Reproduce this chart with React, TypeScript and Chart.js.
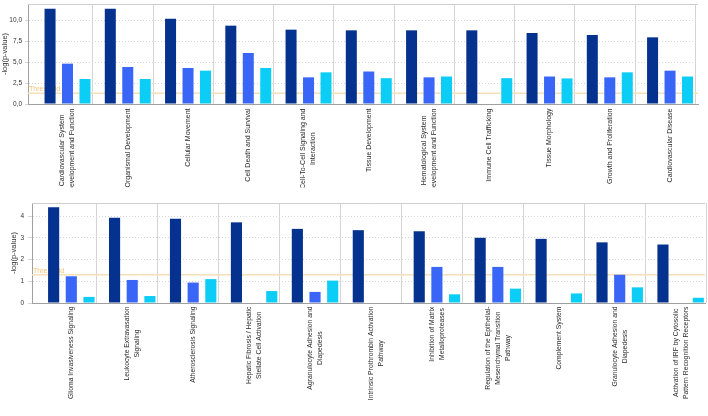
import React, { useEffect, useRef } from 'react';
import { Chart, registerables } from 'chart.js';

Chart.register(...registerables);
Chart.defaults.font.family = '"Liberation Sans", Arial, sans-serif';

// ---------------- data ----------------
const TOP_CATEGORIES: string[][] = [
  ['Cardiovascular System', 'Development and Function'],
  ['Organismal Development'],
  ['Cellular Movement'],
  ['Cell Death and Survival'],
  ['Cell-To-Cell Signaling and', 'Interaction'],
  ['Tissue Development'],
  ['Hematological System', 'Development and Function'],
  ['Immune Cell Trafficking'],
  ['Tissue Morphology'],
  ['Growth and Proliferation'],
  ['Cardiovascular Disease'],
];
const TOP_SERIES_1: (number | null)[] = [11.44, 11.44, 10.24, 9.4, 8.92, 8.84, 8.84, 8.84, 8.52, 8.28, 8.0];
const TOP_SERIES_2: (number | null)[] = [4.84, 4.44, 4.32, 6.12, 3.2, 3.9, 3.2, null, 3.3, 3.2, 4.0];
const TOP_SERIES_3: (number | null)[] = [3.0, 3.0, 4.0, 4.32, 3.8, 3.1, 3.3, 3.1, 3.07, 3.8, 3.3];

const BOTTOM_CATEGORIES: string[][] = [
  ['Glioma Invasiveness Signaling'],
  ['Leukocyte Extravasation', 'Signaling'],
  ['Atherosclerosis Signaling'],
  ['Hepatic Fibrosis / Hepatic', 'Stellate Cell Activation'],
  ['Agranulocyte Adhesion and', 'Diapedesis'],
  ['Intrinsic Prothrombin Activation', 'Pathway'],
  ['Inhibition of Matrix', 'Metalloproteases'],
  ['Regulation of the Epithelial-', 'Mesenchymal Transition', 'Pathway'],
  ['Complement System'],
  ['Granulocyte Adhesion and', 'Diapedesis'],
  ['Activation of IRF by Cytosolic', 'Pattern Recognition Receptors'],
];
const BOTTOM_SERIES_1: (number | null)[] = [4.41, 3.92, 3.87, 3.71, 3.41, 3.35, 3.3, 3.0, 2.95, 2.79, 2.69];
const BOTTOM_SERIES_2: (number | null)[] = [1.23, 1.06, 0.94, null, 0.51, null, 1.66, 1.66, null, 1.3, null];
const BOTTOM_SERIES_3: (number | null)[] = [0.28, 0.32, 1.1, 0.55, 1.03, null, 0.4, 0.66, 0.44, 0.72, 0.24];

const THRESHOLD = 1.3;
const THRESHOLD_LABEL = 'Threshold';
const Y_TITLE = '-log(p-value)';

// ---------------- styles ----------------
const BAR_COLORS = ['#05318f', '#3a66f7', '#0ccdf6'];
const GRID_SHIFT = 0.42;

type Panel = {
  categories: string[][];
  series: (number | null)[][];
  yMax: number;
  yStep: number;
  yTickMax: number;
  decimals: number;
  xMin: number;
  xMax: number;
  padding: { top: number; left: number; right: number; bottom: number };
  yWidth: number;
  xHeight: number;
  tickLen: number;
  tickPad: number;
  labelGap: number;
  labelClip: number;
  labelFont: number;
};

const TOP_PANEL: Panel = {
  categories: TOP_CATEGORIES,
  series: [TOP_SERIES_1, TOP_SERIES_2, TOP_SERIES_3],
  yMax: 12,
  yStep: 2.5,
  yTickMax: 10,
  decimals: 1,
  xMin: -0.656,
  xMax: 10.464,
  padding: { top: 4, left: 0, right: 10, bottom: 0 },
  yWidth: 28,
  xHeight: 92,
  tickLen: 3,
  tickPad: 3,
  labelGap: 4.5,
  labelClip: 82.5,
  labelFont: 7,
};

const BOTTOM_PANEL: Panel = {
  categories: BOTTOM_CATEGORIES,
  series: [BOTTOM_SERIES_1, BOTTOM_SERIES_2, BOTTOM_SERIES_3],
  yMax: 4.6,
  yStep: 1,
  yTickMax: 4,
  decimals: 0,
  xMin: -0.645,
  xMax: 10.4,
  padding: { top: 7, left: 9, right: 3, bottom: 0 },
  yWidth: 23,
  xHeight: 113,
  tickLen: 4,
  tickPad: 4,
  labelGap: 3.5,
  labelClip: 200,
  labelFont: 6.8,
};

function buildChart(canvas: HTMLCanvasElement, p: Panel) {
  const datasets = p.series.map((vals, k) => ({
    label: 'S' + (k + 1),
    data: vals
      .map((v, i) => ({ x: i, y: v }))
      .filter((d) => d.y !== null) as { x: number; y: number }[],
    backgroundColor: BAR_COLORS[k],
    borderWidth: 0,
    categoryPercentage: 0.87,
    barPercentage: 0.63,
  }));

  const thresholdPlugin = {
    id: 'threshold',
    beforeDatasetsDraw(chart: any) {
      const { ctx, chartArea, scales } = chart;
      const y = scales.y.getPixelForValue(THRESHOLD);
      ctx.save();
      ctx.strokeStyle = '#f6e0b8';
      ctx.lineWidth = 1.5;
      ctx.beginPath();
      ctx.moveTo(chartArea.left, y);
      ctx.lineTo(chartArea.right, y);
      ctx.stroke();
      ctx.fillStyle = '#f0c572';
      ctx.font = '7px "Liberation Sans", Arial, sans-serif';
      ctx.textAlign = 'left';
      ctx.textBaseline = 'alphabetic';
      ctx.fillText(THRESHOLD_LABEL, chartArea.left + 1, y - 2);
      // top frame line
      ctx.strokeStyle = '#cfcfcf';
      ctx.lineWidth = 1;
      ctx.beginPath();
      ctx.moveTo(chartArea.left, chartArea.top + 0.5);
      ctx.lineTo(chartArea.right, chartArea.top + 0.5);
      ctx.stroke();
      ctx.restore();
    },
  };

  const labelPlugin = {
    id: 'catLabels',
    afterDraw(chart: any) {
      const { ctx, chartArea, scales } = chart;
      const x = scales.x;
      ctx.save();
      ctx.beginPath();
      ctx.rect(0, chartArea.bottom + 1, chart.width, p.labelClip);
      ctx.clip();
      ctx.font = p.labelFont + 'px "Liberation Sans", Arial, sans-serif';
      ctx.fillStyle = '#2a2a2a';
      ctx.textAlign = 'center';
      ctx.textBaseline = 'middle';
      const lineH = 10;
      p.categories.forEach((lines, i) => {
        const cx = x.getPixelForValue(i);
        const w = Math.max(...lines.map((l) => ctx.measureText(l).width));
        const cy = chartArea.bottom + p.labelGap + w / 2;
        const n = lines.length;
        lines.forEach((line, j) => {
          ctx.save();
          ctx.translate(cx + (j - (n - 1) / 2) * lineH, cy);
          ctx.rotate(-Math.PI / 2);
          ctx.fillText(line, 0, 0);
          ctx.restore();
        });
      });
      ctx.restore();
    },
  };

  return new Chart(canvas, {
    type: 'bar',
    data: { datasets },
    options: {
      responsive: false,
      animation: false,
      devicePixelRatio: 1,
      layout: { padding: p.padding },
      plugins: { legend: { display: false }, tooltip: { enabled: false } },
      scales: {
        x: {
          type: 'linear',
          min: p.xMin,
          max: p.xMax,
          offset: false,
          grid: { offset: false, color: '#d4d4d4', drawTicks: false, lineWidth: 1 },
          border: { color: '#a0a0a0' },
          ticks: { display: false },
          afterBuildTicks: (s: any) => {
            s.ticks = p.categories.map((_, i) => ({ value: i + GRID_SHIFT }));
          },
          afterFit: (s: any) => {
            s.height = p.xHeight;
            s.paddingLeft = 0;
            s.paddingRight = 0;
          },
        },
        y: {
          type: 'linear',
          min: 0,
          max: p.yMax,
          ticks: {
            stepSize: p.yStep,
            padding: p.tickPad,
            color: '#333',
            font: { size: 6.5 },
            callback: (v: any) => Number(v).toFixed(p.decimals).replace('.', ','),
          },
          grid: { color: '#d6d6d6', tickLength: p.tickLen, drawTicks: true },
          border: { color: '#a0a0a0', dash: [1, 2] },
          title: {
            display: true,
            text: Y_TITLE,
            color: '#333',
            font: { size: 7.5 },
            padding: { top: 0, bottom: 0 },
          },
          afterBuildTicks: (s: any) => {
            s.ticks = s.ticks.filter((t: any) => t.value <= p.yTickMax + 1e-9);
          },
          afterFit: (s: any) => {
            s.width = p.yWidth;
            s.paddingTop = 0;
            s.paddingBottom = 0;
          },
        },
      },
    } as any,
    plugins: [thresholdPlugin, labelPlugin],
  });
}

export default function App() {
  const topRef = useRef<HTMLCanvasElement>(null);
  const botRef = useRef<HTMLCanvasElement>(null);
  useEffect(() => {
    const c1 = buildChart(topRef.current as HTMLCanvasElement, TOP_PANEL);
    const c2 = buildChart(botRef.current as HTMLCanvasElement, BOTTOM_PANEL);
    return () => {
      c1.destroy();
      c2.destroy();
    };
  }, []);
  return (
    <div
      style={{
        position: 'absolute',
        left: 0,
        top: 0,
        width: 708,
        height: 416,
        background: '#fff',
        overflow: 'hidden',
      }}
    >
      <canvas ref={topRef} width={708} height={196} style={{ position: 'absolute', left: 0, top: 0 }} />
      <canvas ref={botRef} width={708} height={220} style={{ position: 'absolute', left: 0, top: 196 }} />
    </div>
  );
}
